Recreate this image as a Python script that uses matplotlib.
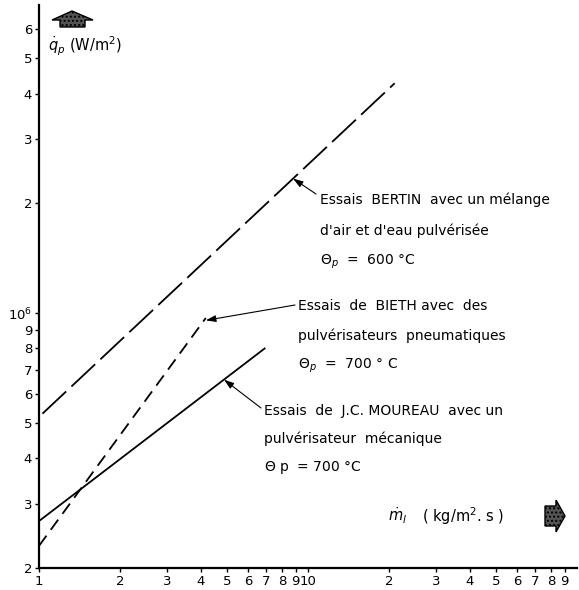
import matplotlib
matplotlib.use("Agg")
import matplotlib.pyplot as plt
from matplotlib.patches import Polygon
import numpy as np

# ---- data ----
bertin_x = [1.03, 21.0]
bertin_y = [0.53e6, 4.27e6]
bieth_x = [1.0, 4.17]
bieth_y = [0.23e6, 0.97e6]
moureau_x = [1.0, 6.9]
moureau_y = [0.269e6, 0.80e6]

x_ticks = [1, 2, 3, 4, 5, 6, 7, 8, 9, 10, 20, 30, 40, 50, 60, 70, 80, 90]
x_labels = ['1', '2', '3', '4', '5', '6', '7', '8', '9', '10',
            '2', '3', '4', '5', '6', '7', '8', '9']
y_ticks = [2e5, 3e5, 4e5, 5e5, 6e5, 7e5, 8e5, 9e5, 1e6, 2e6, 3e6, 4e6, 5e6, 6e6]
y_labels = ['2', '3', '4', '5', '6', '7', '8', '9', r'$10^6$', '2', '3', '4', '5', '6']

bertin_text = ["Essais  BERTIN  avec un mélange", "d'air et d'eau pulvérisée",
               r"$\Theta_p$  =  600 °C"]
bieth_text = ["Essais  de  BIETH avec  des", "pulvérisateurs  pneumatiques",
              r"$\Theta_p$  =  700 ° C"]
moureau_text = ["Essais  de  J.C. MOUREAU  avec un", "pulvérisateur  mécanique",
                r"$\Theta$ p  = 700 °C"]

W, H = 579, 590
plt.rcParams['font.family'] = ['DejaVu Sans']
plt.rcParams['mathtext.fontset'] = 'dejavusans'

fig = plt.figure(figsize=(W / 100, H / 100), dpi=100)


def fp(x, y):
    """pixel (top-left origin) -> figure fraction"""
    return (x / W, 1 - y / H)


ax = fig.add_axes([39 / W, 22 / H, 538 / W, 563 / H])
ax.set_xscale('log')
ax.set_yscale('log')
ax.set_xlim(1, 100)
ax.set_ylim(2e5, 7e6)

ax.plot(bertin_x, bertin_y, color='black', lw=1.3, dashes=(18, 4))
ax.plot(bieth_x, bieth_y, color='black', lw=1.3, dashes=(7, 4))
ax.plot(moureau_x, moureau_y, color='black', lw=1.3)

for s in ['top', 'right']:
    ax.spines[s].set_visible(False)
for s in ['left', 'bottom']:
    ax.spines[s].set_linewidth(1.6)

ax.xaxis.set_minor_locator(matplotlib.ticker.NullLocator())
ax.yaxis.set_minor_locator(matplotlib.ticker.NullLocator())
ax.set_xticks(x_ticks)
ax.set_xticklabels(x_labels)
ax.set_yticks(y_ticks)
ax.set_yticklabels(y_labels)
ax.tick_params(axis='both', direction='out', length=3, width=1, labelsize=9.5, pad=2)


def on_line(xs, ys, x):
    return 10 ** np.interp(np.log10(x), np.log10(xs), np.log10(ys))


arrowprops = dict(arrowstyle='-|>,head_length=0.6,head_width=0.2', color='black',
                  lw=0.8, shrinkA=0, shrinkB=0)

# BERTIN
tip_x = 8.8
ax.annotate('', xy=(tip_x, on_line(bertin_x, bertin_y, tip_x)), xycoords='data',
            xytext=fp(316, 194), textcoords='figure fraction', arrowprops=arrowprops)
for i, t in enumerate(bertin_text):
    fig.text(*fp(320, 200 + 31 * i), t, fontsize=10, va='center', ha='left')

# BIETH
ax.annotate('', xy=(bieth_x[-1], bieth_y[-1] * 0.985), xycoords='data',
            xytext=fp(295, 305), textcoords='figure fraction', arrowprops=arrowprops)
for i, t in enumerate(bieth_text):
    fig.text(*fp(298, 306 + 30 * i), t, fontsize=10, va='center', ha='left')

# MOUREAU
tip_x = 4.87
ax.annotate('', xy=(tip_x, on_line(moureau_x, moureau_y, tip_x)), xycoords='data',
            xytext=fp(261, 408), textcoords='figure fraction', arrowprops=arrowprops)
for i, t in enumerate(moureau_text):
    fig.text(*fp(264, 411 + 28 * i), t, fontsize=10, va='center', ha='left')

# axis labels
fig.text(*fp(48, 46), r'$\dot{q}_p$ (W/m$^2$)', fontsize=10.5, va='center', ha='left')
fig.text(*fp(388, 516), r'$\dot{m}_l$', fontsize=10.5, va='center', ha='left')
fig.text(*fp(422, 516), r'( kg/m$^2$. s )', fontsize=10.5, va='center', ha='left')

# block arrows
up = [fp(72, 11), fp(93, 20), fp(85, 20), fp(85, 27), fp(60, 27), fp(60, 20), fp(52, 20)]
fig.add_artist(Polygon(up, closed=True, transform=fig.transFigure,
                       facecolor='#555555', edgecolor='black', lw=1, hatch='....'))
right = [fp(545, 506), fp(556, 506), fp(556, 500), fp(565, 516), fp(556, 532),
         fp(556, 526), fp(545, 526)]
fig.add_artist(Polygon(right, closed=True, transform=fig.transFigure,
                       facecolor='#555555', edgecolor='black', lw=1, hatch='....'))

fig.savefig('out.png', dpi=100)
